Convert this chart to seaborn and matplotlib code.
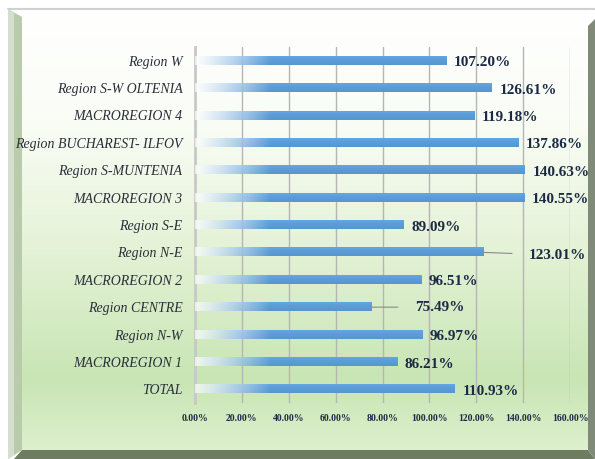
import numpy as np
import pandas as pd
import matplotlib
matplotlib.use('Agg')
import matplotlib.pyplot as plt
import seaborn as sns
from matplotlib.patches import Polygon
from matplotlib.colors import to_rgb
from matplotlib.ticker import MultipleLocator, FuncFormatter

# Data
regions = ['Region W', 'Region S-W OLTENIA', 'MACROREGION 4',
           'Region BUCHAREST- ILFOV', 'Region S-MUNTENIA', 'MACROREGION 3',
           'Region S-E', 'Region N-E', 'MACROREGION 2', 'Region CENTRE',
           'Region N-W', 'MACROREGION 1', 'TOTAL']
values = [107.20, 126.61, 119.18, 137.86, 140.63, 140.55,
          89.09, 123.01, 96.51, 75.49, 96.97, 86.21, 110.93]

df = pd.DataFrame({'Region': regions, 'Value': values})

sns.set_style('white')
plt.rcParams['font.family'] = ['Liberation Serif', 'DejaVu Serif']

W, H = 595, 459
fig = plt.figure(figsize=(W / 100, H / 100), dpi=100)

# background: frame + green gradient, drawn in pixel coords
bg = fig.add_axes([0, 0, 1, 1], zorder=-5)
bg.set_xlim(0, W)
bg.set_ylim(H, 0)
bg.axis('off')

stops_y = [10, 120, 250, 380, 450]
stops_c = ['#ffffff', '#fafdf6', '#e4f2d6', '#c8e5b4', '#ddf0cd']
ys = np.linspace(10, 450, 300)
rgb = np.array([to_rgb(c) for c in stops_c])
grad = np.stack([np.interp(ys, stops_y, rgb[:, k]) for k in range(3)], axis=1)
grad = np.repeat(grad[:, None, :], 2, axis=1)
bg.imshow(grad, extent=[22, 588, 450, 10], aspect='auto', interpolation='bilinear')

# top line
bg.plot([8, 595], [9, 9], color='#d0d0d0', lw=1.5)
# left bevel
left = np.array([[8, 9], [22, 17], [22, 450], [8, 459]])
bg.add_patch(Polygon(left, closed=True, facecolor='#b8cbab', edgecolor='none'))
bg.add_patch(Polygon([[8, 9], [14, 13], [14, 455], [8, 459]], closed=True,
                     facecolor='#d6dfcf', edgecolor='none'))
# bottom band
bg.add_patch(Polygon([[22, 450], [588, 450], [595, 459], [14, 459]], closed=True,
                     facecolor='#6e7c62', edgecolor='none'))
# right band
bg.add_patch(Polygon([[588, 26], [595, 19], [595, 459], [588, 450]], closed=True,
                     facecolor='#7f8b78', edgecolor='none'))

# main chart
ax = fig.add_axes([195 / W, 1 - 403 / H, (570 - 195) / W, (403 - 47) / H])
ax.set_facecolor('none')
sns.barplot(data=df, x='Value', y='Region', orient='h', width=0.3,
            color='#5b9bd5', ax=ax, zorder=3)

# gradient fill on each bar (white on the left, blue to the right)
blue = np.array(to_rgb('#5b9bd5'))
shade = np.array([1.06, 1.02, 1.0, 0.97])
for bar in ax.patches:
    x0, y0 = bar.get_x(), bar.get_y()
    w, h = bar.get_width(), bar.get_height()
    bar.set_facecolor('none')
    bar.set_edgecolor('none')
    xd = np.linspace(0, w, 200)
    t = np.clip(xd / 32, 0, 1)
    img = np.zeros((len(shade), len(xd), 4))
    for r, s in enumerate(shade):
        col = np.clip(blue * s, 0, 1)
        img[r, :, :3] = (1 - t)[:, None] * 1.0 + t[:, None] * col
        img[r, :, 3] = 0.7 + 0.3 * t
    ax.imshow(img, extent=[x0, x0 + w, y0 + h, y0], aspect='auto',
              interpolation='bilinear', zorder=3)

ax.set_xlim(0, 160)
ax.set_ylim(len(regions) - 0.5, -0.5)

# gridlines and axis
ax.xaxis.set_major_locator(MultipleLocator(20))
ax.xaxis.set_major_formatter(FuncFormatter(lambda v, p: f'{v:.2f}%'))
ax.grid(axis='x', color='#b5b5b5', lw=1)
ax.set_axisbelow(True)
for s in ['top', 'right', 'bottom']:
    ax.spines[s].set_visible(False)
ax.spines['left'].set_color('#c8c8c8')
ax.spines['left'].set_linewidth(2)
ax.tick_params(axis='x', length=0, pad=8, labelsize=7, labelcolor='#1c2a44')
ax.tick_params(axis='y', length=3, color='#c8c8c8', pad=6, labelsize=10,
               labelcolor='#2a2f3a')
for lab in ax.get_xticklabels():
    lab.set_fontweight('bold')
for lab in ax.get_yticklabels():
    lab.set_fontstyle('italic')
ax.set_xlabel('')
ax.set_ylabel('')

# value labels; two of them sit further out with a leader line
leader = {'Region N-E': (33, -2), 'Region CENTRE': (31, 0)}
for i, (name, v) in enumerate(zip(regions, values)):
    txt = f'{v:.2f}%'
    if name in leader:
        dx, dy = leader[name]
        ax.annotate(txt, xy=(v, i), xytext=(dx, dy), textcoords='offset points',
                    ha='left', va='center', fontsize=11, fontweight='bold',
                    color='#1c2a44', zorder=5,
                    arrowprops=dict(arrowstyle='-', color='#8a8a8a', lw=0.8,
                                    shrinkA=10, shrinkB=0))
    else:
        ax.annotate(txt, xy=(v, i), xytext=(5.5, -1.5), textcoords='offset points',
                    ha='left', va='center', fontsize=11, fontweight='bold',
                    color='#1c2a44', zorder=5)

fig.savefig('out.png', dpi=100)
